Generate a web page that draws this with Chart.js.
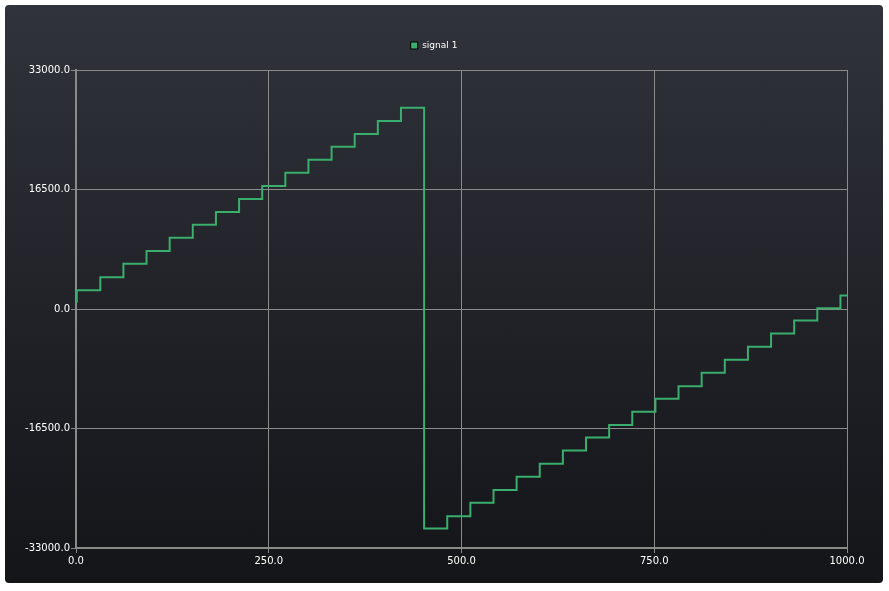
<!DOCTYPE html>
<html>
<head>
<meta charset="utf-8">
<script src="https://cdn.jsdelivr.net/npm/chart.js@4.4.0/dist/chart.umd.min.js"></script>
<style>
  html, body { margin: 0; padding: 0; background: #ffffff; }
  #card {
    position: absolute; left: 5px; top: 5px; width: 878px; height: 578px;
    border-radius: 4px;
    background: linear-gradient(to bottom, #30333b 0%, #222329 50%, #141519 100%);
  }
  #signalChart { display: block; }
</style>
</head>
<body>
<div id="card"><canvas id="signalChart" width="878" height="578"></canvas></div>
<script>
// step edges (x) and the level that starts at each edge (y)
const sampleX = [0, 1, 31.5, 61.5, 91.5, 121.5, 151.5, 181.5, 211.5, 241.5, 271.5, 301.5, 331.5, 361.5, 391.5, 421.5,
    451.5, 481.5, 511.5, 541.5, 571.5, 601.5, 631.5, 661.5, 691.5, 721.5, 751.5, 781.5, 811.5, 841.5, 871.5, 901.5,
    931.5, 961.5, 991.5, 1000];
const signalY = [1000, 2600, 4400, 6250, 8000, 9850, 11650, 13400, 15200, 17000, 18800, 20600, 22400, 24150, 25950, 27800,
    -30300, -28600, -26750, -25000, -23150, -21350, -19550, -17750, -16000, -14200, -12400, -10650, -8800, -7000, -5200, -3400,
    -1600, 100, 1850, 1850];
const xTicks = [0, 250, 500, 750, 1000];
const yTicks = [-33000, -16500, 0, 16500, 33000];

const lineColor = '#3aae6c';
const gridColor = '#8a8a8a';
const textColor = '#ffffff';

// legend sits a bit higher and to the right than chart.js puts it
const legendNudge = {
    id: 'legendNudge',
    beforeInit: function (chart) {
        const fit = chart.legend.fit;
        chart.legend.fit = function () {
            fit.call(this);
            this.height += 10;
        };
    },
    afterLayout: function (chart) {
        chart.legend.left += 8;
        chart.legend.right += 8;
    }
};

document.addEventListener('DOMContentLoaded', function () {
    const ctx = document.getElementById('signalChart').getContext('2d');

    const points = sampleX.map(function (x, i) { return { x: x, y: signalY[i] }; });

    const config = {
        type: 'line',
        data: {
            datasets: [{
                label: 'signal 1',
                data: points,
                borderColor: lineColor,
                backgroundColor: lineColor,
                borderWidth: 2,
                pointRadius: 0,
                stepped: 'before',
                tension: 0,
                fill: false
            }]
        },
        options: {
            responsive: false,
            animation: false,
            layout: {
                padding: { top: 16, right: 36, bottom: 0, left: 0 }
            },
            plugins: {
                legend: {
                    labels: {
                        color: textColor,
                        boxWidth: 7,
                        boxHeight: 7,
                        padding: 20,
                        font: { family: 'DejaVu Sans', size: 9 },
                        generateLabels: function (chart) {
                            const items = Chart.defaults.plugins.legend.labels.generateLabels(chart);
                            items.forEach(function (it) {
                                it.strokeStyle = '#000000';
                                it.lineWidth = 1;
                                it.fillStyle = lineColor;
                            });
                            return items;
                        }
                    }
                },
                tooltip: { enabled: false }
            },
            scales: {
                x: {
                    type: 'linear',
                    min: 0,
                    max: 1000,
                    afterFit: function (s) { s.height = 35; },
                    afterBuildTicks: function (s) { s.ticks = xTicks.map(function (v) { return { value: v }; }); },
                    ticks: {
                        color: textColor,
                        padding: 2,
                        maxRotation: 0,
                        font: { family: 'DejaVu Sans', size: 10 },
                        callback: function (v) { return Number(v).toFixed(1); }
                    },
                    grid: { color: gridColor, lineWidth: 1, tickLength: 5 },
                    border: { color: gridColor, width: 2 }
                },
                y: {
                    min: -33000,
                    max: 33000,
                    afterFit: function (s) { s.width = 71; },
                    afterBuildTicks: function (s) { s.ticks = yTicks.map(function (v) { return { value: v }; }); },
                    ticks: {
                        color: textColor,
                        padding: 1,
                        font: { family: 'DejaVu Sans', size: 10 },
                        callback: function (v) { return Number(v).toFixed(1); }
                    },
                    grid: { color: gridColor, lineWidth: 1, tickLength: 5 },
                    border: { color: gridColor, width: 2 }
                }
            }
        },
        plugins: [legendNudge]
    };

    new Chart(ctx, config);
});
</script>
</body>
</html>
